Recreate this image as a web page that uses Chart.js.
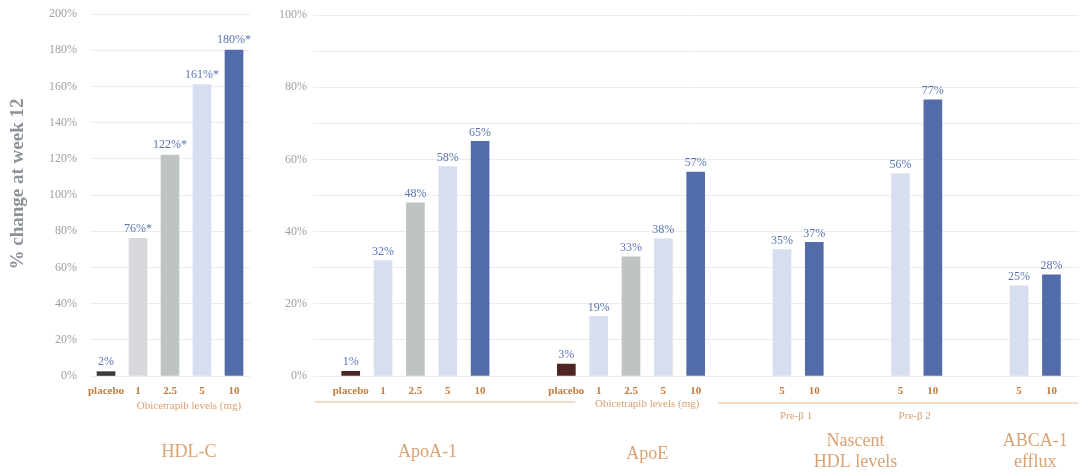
<!DOCTYPE html>
<html>
<head>
<meta charset="utf-8">
<script src="https://cdn.jsdelivr.net/npm/chart.js@4.4.0/dist/chart.umd.min.js"></script>
<style>
  html, body { margin: 0; padding: 0; background: #fff; }
  #wrap { position: relative; width: 1082px; height: 474px; overflow: hidden; }
  #hdlChart { position: absolute; left: 0; top: 0; }
  #restChart { position: absolute; left: 262px; top: 0; }
</style>
</head>
<body>
<div id="wrap">
  <canvas id="hdlChart" width="262" height="474"></canvas>
  <canvas id="restChart" width="820" height="474"></canvas>
</div>
<script>
const SERIF = '"Liberation Serif", "DejaVu Serif", serif';

// HDL-C panel (0-200 %)
const hdlDoses = ['placebo', '1', '2.5', '5', '10'];
const hdlValues = [2.4, 76, 122, 161, 180];
const hdlText = ['2%', '76%*', '122%*', '161%*', '180%*'];
const hdlMax = 200, hdlStep = 20;

// other panels (0-100 %)
const apoa1Doses = ['placebo', '1', '2.5', '5', '10'];
const apoa1Values = [1.3, 32, 48, 58, 65];
const apoa1Text = ['1%', '32%', '48%', '58%', '65%'];

const apoeDoses = ['placebo', '1', '2.5', '5', '10'];
const apoeValues = [3.3, 16.5, 33, 38, 56.5];
const apoeText = ['3%', '19%', '33%', '38%', '57%'];

const preb1Doses = ['5', '10'];
const preb1Values = [35, 37];
const preb1Text = ['35%', '37%'];

const preb2Doses = ['5', '10'];
const preb2Values = [56, 76.5];
const preb2Text = ['56%', '77%'];

const abcaDoses = ['5', '10'];
const abcaValues = [25, 28];
const abcaText = ['25%', '28%'];

const restMax = 100, restStep = 10;

const tickColor = '#c27a3e';
const noteColor = '#d9a273';
const valueColor = '#5a74b2';
const gridColor = '#ececec';

const hdlColors = {'placebo': '#3b3b3b', '1': '#d6d8dc', '2.5': '#bec4c3', '5': '#d7def0', '10': '#516ca8'};
const restColorsByDose = {'placebo': '#4e2424', '1': '#d7def0', '2.5': '#bec4c3', '5': '#d7def0', '10': '#516ca8'};

// build the wide category axis: bars with empty slots between them
const groups = [
  {doses: apoa1Doses, values: apoa1Values, text: apoa1Text},
  {doses: apoeDoses, values: apoeValues, text: apoeText},
  {doses: preb1Doses, values: preb1Values, text: preb1Text},
  {doses: preb2Doses, values: preb2Values, text: preb2Text},
  {doses: abcaDoses, values: abcaValues, text: abcaText}
];
const LEAD = 3, STEP = 3, GAP = 8, TAIL = 2;
const restLabels = [], restValues = [], restColors = [], restText = [];

function pad(n) {
    for (let i = 0; i < n; i++) {
        restLabels.push('');
        restValues.push(null);
        restColors.push('rgba(0,0,0,0)');
        restText.push('');
    }
}

pad(LEAD);
groups.forEach(function(g, gi) {
    g.index = [];
    g.doses.forEach(function(d, i) {
        if (i > 0) pad(STEP - 1);
        g.index.push(restLabels.length);
        restLabels.push(d);
        restValues.push(g.values[i]);
        restColors.push(restColorsByDose[d]);
        restText.push(g.text[i]);
    });
    if (gi < groups.length - 1) pad(GAP - 1);
});
pad(TAIL);

function drawLines(ctx, lines, x, y, size, gap) {
    ctx.font = size + 'px ' + SERIF;
    const start = y - (lines.length - 1) * gap / 2;
    lines.forEach(function(t, i) { ctx.fillText(t, x, start + i * gap); });
}

function valueLabels(chart, texts, values, offset) {
    const ctx = chart.ctx;
    ctx.font = '12px ' + SERIF;
    ctx.fillStyle = valueColor;
    ctx.textAlign = 'center';
    ctx.textBaseline = 'bottom';
    chart.getDatasetMeta(0).data.forEach(function(bar, i) {
        if (values[i] == null) return;
        ctx.fillText(texts[i], bar.x, bar.y - offset);
    });
}

const hdlExtras = {
    id: 'hdlExtras',
    afterDatasetsDraw(chart) {
        const ctx = chart.ctx;
        const x = chart.scales.x;
        ctx.save();
        valueLabels(chart, hdlText, hdlValues, 4);
        const mid = (x.getPixelForValue(1) + x.getPixelForValue(4)) / 2 + 3;
        ctx.fillStyle = noteColor;
        ctx.textBaseline = 'middle';
        drawLines(ctx, ['Obicetrapib levels (mg)'], mid, 406, 11, 0);
        drawLines(ctx, ['HDL-C'], mid, 452, 18, 0);
        // y axis title
        ctx.translate(18, 184);
        ctx.rotate(-Math.PI / 2);
        ctx.fillStyle = '#8c9298';
        ctx.font = 'bold 19px ' + SERIF;
        ctx.fillText('% change at week 12', 0, 0);
        ctx.restore();
    }
};

const restExtras = {
    id: 'restExtras',
    afterDatasetsDraw(chart) {
        const ctx = chart.ctx;
        const x = chart.scales.x;
        const area = chart.chartArea;
        const px = i => x.getPixelForValue(i);
        const mid = (a, b) => (px(a) + px(b)) / 2;
        const [apoa1, apoe, preb1, preb2, abca] = groups;
        ctx.save();
        valueLabels(chart, restText, restValues, 3);

        ctx.strokeStyle = '#efcfb4';
        ctx.lineWidth = 1.5;
        ctx.beginPath();
        ctx.moveTo(area.left + 2, 402);
        ctx.lineTo(px(apoe.index[0]) + 9, 402);
        ctx.moveTo(px(apoe.index[4]) + 22, 403);
        ctx.lineTo(area.right, 403);
        ctx.stroke();

        ctx.fillStyle = noteColor;
        ctx.textAlign = 'center';
        ctx.textBaseline = 'middle';
        drawLines(ctx, ['Obicetrapib levels (mg)'], mid(apoe.index[1], apoe.index[4]), 404, 11, 0);
        drawLines(ctx, ['Pre-β 1'], mid(preb1.index[0], preb1.index[1]) - 2, 416, 11, 0);
        drawLines(ctx, ['Pre-β 2'], mid(preb2.index[0], preb2.index[1]) - 2, 416, 11, 0);

        drawLines(ctx, ['ApoA-1'], mid(apoa1.index[1], apoa1.index[4]) - 4, 452, 18, 0);
        drawLines(ctx, ['ApoE'], mid(apoe.index[1], apoe.index[4]), 454, 18, 0);
        drawLines(ctx, ['Nascent', 'HDL levels'], mid(preb1.index[0], preb2.index[1]) - 2, 452, 18, 21);
        drawLines(ctx, ['ABCA-1', 'efflux'], mid(abca.index[0], abca.index[1]), 452, 18, 21);
        ctx.restore();
    }
};

function baseOptions(max, step, yWidth, yPad, padTop, padRight, labelFn) {
    return {
        responsive: false,
        animation: false,
        layout: {padding: {top: padTop, right: padRight, left: 0, bottom: 0}},
        plugins: {legend: {display: false}, tooltip: {enabled: false}},
        scales: {
            x: {
                grid: {display: false, drawTicks: false},
                border: {display: false},
                ticks: {
                    autoSkip: false,
                    maxRotation: 0,
                    padding: 9,
                    color: tickColor,
                    font: {family: SERIF, size: 11, weight: 'bold'}
                },
                afterFit: function(s) { s.height = 98; }
            },
            y: {
                min: 0,
                max: max,
                ticks: {
                    stepSize: step,
                    padding: yPad,
                    color: '#a0a0a0',
                    font: {family: SERIF, size: 12},
                    callback: labelFn
                },
                grid: {color: gridColor, drawTicks: false},
                border: {display: false},
                afterFit: function(s) {
                    s.width = yWidth;
                    // the tick padding should not push the plot area down
                    s.paddingTop = 0;
                    s.paddingBottom = 0;
                }
            }
        }
    };
}

new Chart(document.getElementById('hdlChart').getContext('2d'), {
    type: 'bar',
    data: {
        labels: hdlDoses,
        datasets: [{
            data: hdlValues,
            backgroundColor: hdlDoses.map(d => hdlColors[d]),
            barThickness: 18
        }]
    },
    options: baseOptions(hdlMax, hdlStep, 90, 13, 14, 12, v => v + '%'),
    plugins: [hdlExtras]
});

new Chart(document.getElementById('restChart').getContext('2d'), {
    type: 'bar',
    data: {
        labels: restLabels,
        datasets: [{
            data: restValues,
            backgroundColor: restColors,
            barThickness: 18
        }]
    },
    options: baseOptions(restMax, restStep, 51, 6, 15, 0, v => (v % 20 === 0 ? v + '%' : '')),
    plugins: [restExtras]
});
</script>
</body>
</html>
